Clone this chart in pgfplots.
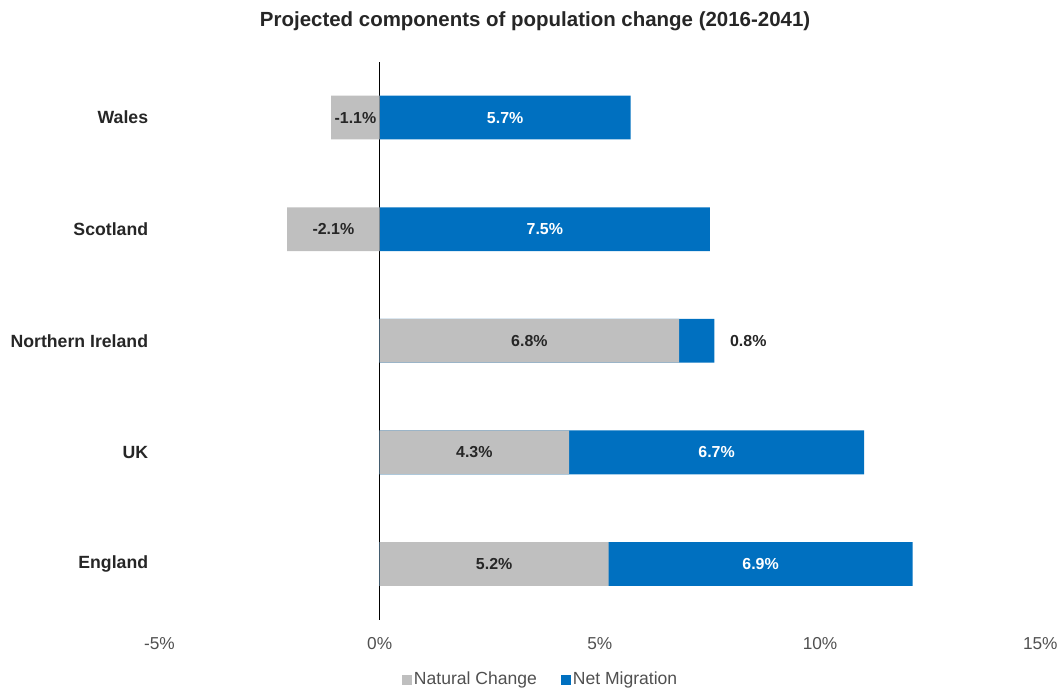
\documentclass[border=0pt]{standalone}
\usepackage{fontspec}
\setmainfont{Liberation Sans}
\usepackage{pgfplots}
\pgfplotsset{compat=1.18}
\definecolor{natgrey}{HTML}{BFBFBF}
\definecolor{netblue}{HTML}{0070C0}
\definecolor{ticktxt}{HTML}{505050}
\definecolor{lbltxt}{HTML}{262626}
\begin{document}
\begin{tikzpicture}
\begin{axis}[
  scale only axis,
  width=663pt, height=420pt,
  xmin=-5, xmax=15, ymin=-0.5, ymax=4.5,
  clip=false,
  axis line style={draw=none},
  major tick length=0pt,
  xtick={-5,0,5,10,15},
  xticklabel={\pgfmathprintnumber{\tick}\%},
  /pgf/number format/assume math mode=true,
  xticklabel style={font=\fontsize{13}{15}\selectfont, text=ticktxt},
  xticklabel shift=10pt,
  ytick={0,1,2,3,4},
  yticklabels={England,UK,Northern Ireland,Scotland,Wales},
  yticklabel style={font=\bfseries\fontsize{13.3}{15}\selectfont, text=lbltxt},
  yticklabel shift=5pt,
  extra x ticks={0},
  extra x tick labels={},
  extra x tick style={grid=major, major grid style={black, line width=0.9pt}},
  legend style={at={(0.433,-0.107)}, anchor=center, draw=none, legend columns=2,
    font=\fontsize{13.2}{15}\selectfont, text=ticktxt,
    /tikz/every even column/.append style={column sep=16pt}},
  legend cell align=left,
]
\addlegendimage{legend image code/.code={\fill[natgrey] (0pt,-3.4pt) rectangle (6.8pt,3.4pt);}}
\addlegendentry{Natural Change}
\addlegendimage{legend image code/.code={\fill[netblue] (0pt,-3.4pt) rectangle (6.8pt,3.4pt);}}
\addlegendentry{Net Migration}

% Net migration bar end (natural change + net migration where natural change is positive)
\addplot[xbar, bar shift=0pt, bar width=33pt, fill=netblue, draw=none, forget plot]
  coordinates {(12.1,0) (11.0,1) (7.6,2) (7.5,3) (5.7,4)};
% Natural change
\addplot[xbar, bar shift=0pt, bar width=33pt, fill=natgrey, draw=none, forget plot]
  coordinates {(5.2,0) (4.3,1) (6.8,2) (-2.1,3) (-1.1,4)};

% Black labels
\addplot[draw=none, mark=none, forget plot, nodes near coords, point meta=explicit symbolic,
  nodes near coords style={anchor=center, font=\bfseries\fontsize{12}{14}\selectfont, text=lbltxt}]
  table[meta=lab] {
x y lab
2.6 0 5.2\%
2.15 1 4.3\%
3.4 2 6.8\%
8.37 2 0.8\%
-1.05 3 -2.1\%
-0.55 4 -1.1\%
};
% White labels
\addplot[draw=none, mark=none, forget plot, nodes near coords, point meta=explicit symbolic,
  nodes near coords style={anchor=center, font=\bfseries\fontsize{12}{14}\selectfont, text=white}]
  table[meta=lab] {
x y lab
8.65 0 6.9\%
7.65 1 6.7\%
3.75 3 7.5\%
2.85 4 5.7\%
};

\node[font=\bfseries\fontsize{15.4}{18}\selectfont, text=lbltxt, anchor=center]
  at (rel axis cs:0.4265,1.072) {Projected components of population change (2016-2041)};

\path (rel axis cs:-0.181,-0.1179) rectangle (rel axis cs:1.0204,1.1107);
\end{axis}
\end{tikzpicture}
\end{document}
